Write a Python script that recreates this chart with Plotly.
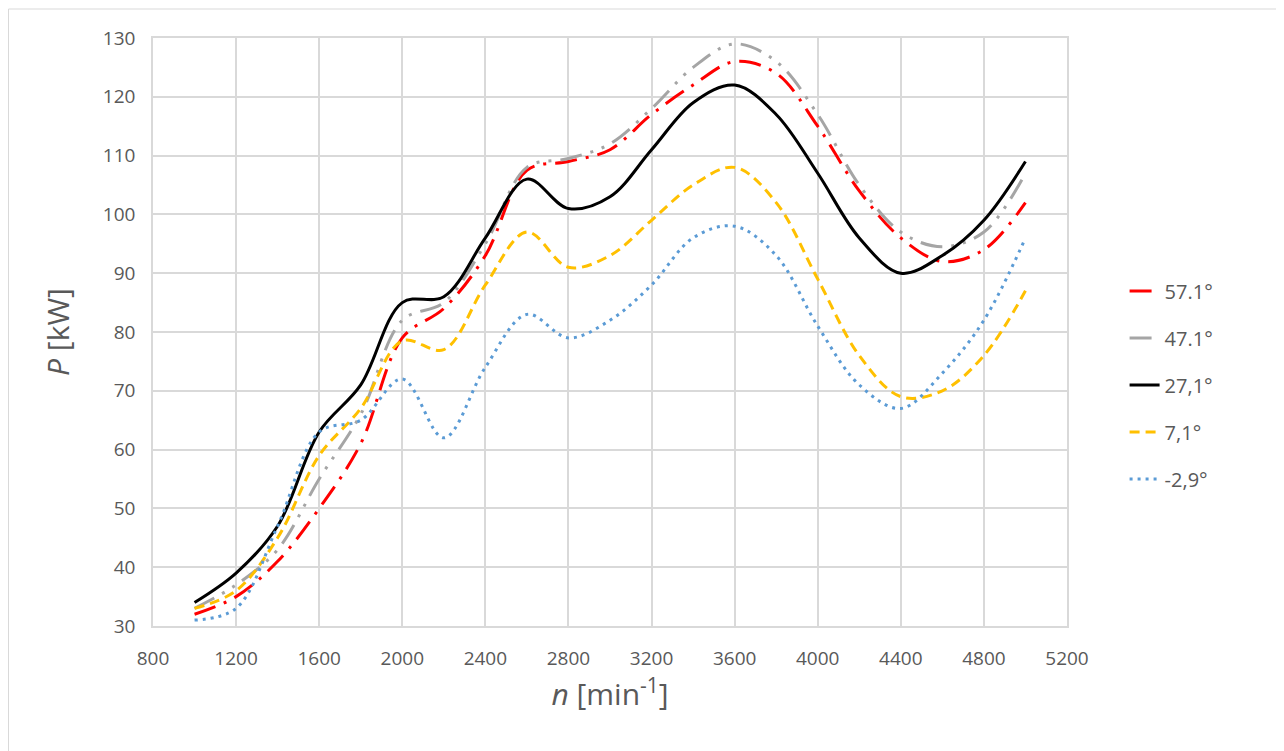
import plotly.graph_objects as go

rpm = [1000, 1200, 1400, 1600, 1800, 2000, 2200, 2400, 2600, 2800, 3000,
       3200, 3400, 3600, 3800, 4000, 4200, 4400, 4600, 4800, 5000]

p_571 = [32, 35, 41, 50, 61, 79, 84, 93, 107.5, 109, 111, 117, 122, 126, 124, 115, 104, 96, 92, 94, 102]
p_471 = [33, 37, 43, 55, 66, 82, 85, 95, 108, 109.5, 112, 118, 125, 129, 126, 117, 105, 97, 94.5, 97, 107]
p_271 = [34, 39, 47, 63, 71, 85, 86, 96, 106, 101, 103, 111, 119, 122, 117, 107, 96, 90, 93, 99, 109]
p_71 = [33, 36, 45, 59, 67, 78.5, 77, 88, 97, 91, 93, 99, 105, 108, 102, 89, 76, 69, 70, 76, 87]
p_m29 = [31, 33, 47, 63, 65, 72, 62, 74, 83, 79, 82, 88, 96, 98, 93, 81, 71, 67, 73, 82, 96]

names = ["57.1°", "47.1°", "27,1°", "7,1°", "-2,9°"]
series = [p_571, p_471, p_271, p_71, p_m29]
colors = ["#FF0000", "#A5A5A5", "#000000", "#FFC000", "#5B9BD5"]
dashes = ["22px,9px,3px,9px", "22px,9px,3px,9px,3px,9px", "solid", "10px,6px", "3px,5px"]

x_ticks = list(range(800, 5201, 400))
y_ticks = list(range(30, 131, 10))

W, H = 1276, 743
L, T, PW, PH = 145, 30, 914, 588

fig = go.Figure()
for i, (nm, ys, c, d) in enumerate(zip(names, series, colors, dashes)):
    fig.add_trace(go.Scatter(
        x=rpm, y=ys, name=nm, mode="lines",
        line=dict(color=c, width=3, dash=d, shape="spline", smoothing=1.0),
        legendgroup=f"g{i}",
    ))

fig.update_layout(
    width=W, height=H,
    margin=dict(l=L, r=W - L - PW, t=T, b=H - T - PH),
    paper_bgcolor="white", plot_bgcolor="white",
    font=dict(family="Open Sans, Liberation Sans, sans-serif", color="#595959", size=19),
    legend=dict(x=1.063, y=0.41, xanchor="left", yanchor="middle",
                font=dict(size=20, color="#595959"),
                tracegroupgap=18, bgcolor="rgba(0,0,0,0)"),
    showlegend=True,
)
fig.update_xaxes(
    range=[800, 5200], tickvals=x_ticks, ticktext=[str(v) for v in x_ticks],
    showgrid=True, gridcolor="#D9D9D9", gridwidth=1.5,
    showline=True, linecolor="#D9D9D9", linewidth=1.5, mirror=True,
    zeroline=False, ticks="", ticklabelstandoff=14, tickfont=dict(size=19, color="#595959"),
    title=dict(text="<i>n</i> [min<sup>-1</sup>]", font=dict(size=30, color="#595959"), standoff=14),
)
fig.update_yaxes(
    range=[30, 130], tickvals=y_ticks, ticktext=[str(v) for v in y_ticks],
    showgrid=True, gridcolor="#D9D9D9", gridwidth=1.5,
    showline=True, linecolor="#D9D9D9", linewidth=1.5, mirror=True,
    zeroline=False, ticks="", ticklabelstandoff=12, tickfont=dict(size=19, color="#595959"),
    title=dict(text="<i>P</i> [kW]", font=dict(size=30, color="#595959"), standoff=24),
)
fig.add_shape(type="rect", xref="paper", yref="paper",
              x0=(0.5 - L) / PW, x1=(W + 20 - L) / PW,
              y0=(T + PH - (H + 20)) / PH, y1=(T + PH - 1) / PH,
              line=dict(color="#D9D9D9", width=1), fillcolor="rgba(0,0,0,0)", layer="below")

fig.write_html("out.html")
